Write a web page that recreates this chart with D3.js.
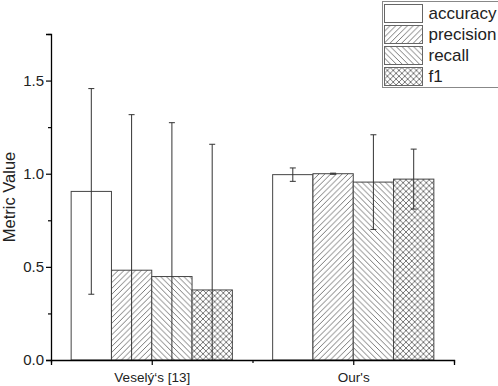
<!DOCTYPE html>
<html lang="en">
<head>
<meta charset="UTF-8">
<title>Metric Value</title>
<script src="https://d3js.org/d3.v7.min.js"></script>
<style>
    body{ margin:0; background:#fff; font-family: Arial, "Liberation Sans", sans-serif; }
</style>
</head>
<body>
<svg width="498" height="386" id="canvas"></svg>
<script>
    // data
    const groups = ["Veselý‘s [13]", "Our's"];
    const metrics = ["accuracy", "precision", "recall", "f1"];
    const means = [
        [0.905, 0.482, 0.448, 0.376],
        [0.995, 1.000, 0.955, 0.971]
    ];
    const errs = [
        [0.552, 0.835, 0.826, 0.782],
        [0.036, 0.003, 0.254, 0.161]
    ];
    const yTicks = [0, 0.5, 1.0, 1.5];
    const yMinor = [0.25, 0.75, 1.25, 1.75];

    const svg = d3.select("svg");
    const mLeft = 51, mRight = 454, mTop = 34, mBottom = 360;

    const x = d3.scaleLinear().domain([0.5, 2.5]).range([mLeft, mRight]);
    const y = d3.scaleLinear().domain([0, 1.75]).range([mBottom, mTop]);
    const barW = 0.2;

    // hatch patterns
    const defs = svg.append("defs");
    const s = 5.8;
    function hatch(id, d) {
        const p = defs.append("pattern").attr("id", id)
            .attr("patternUnits", "userSpaceOnUse")
            .attr("width", s).attr("height", s);
        p.append("rect").attr("width", s).attr("height", s).attr("fill", "#fff");
        p.append("path").attr("d", d)
            .attr("stroke", "#555").attr("stroke-width", 0.8).attr("fill", "none");
    }
    const fwd = `M0,${s} L${s},0 M${-1},1 L1,${-1} M${s-1},${s+1} L${s+1},${s-1}`;
    const back = `M0,0 L${s},${s} M${-1},${s-1} L1,${s+1} M${s-1},${-1} L${s+1},1`;
    hatch("p-precision", fwd);
    hatch("p-recall", back);
    hatch("p-f1", fwd + " " + back);
    const fills = ["#fff", "url(#p-precision)", "url(#p-recall)", "url(#p-f1)"];

    defs.append("clipPath").attr("id", "plot")
        .append("rect").attr("x", mLeft).attr("y", 0)
        .attr("width", mRight - mLeft).attr("height", mBottom);

    // bars
    const rows = [];
    groups.forEach((g, gi) => metrics.forEach((m, mi) => {
        rows.push({gi, mi, v: means[gi][mi], e: errs[gi][mi], cx: gi + 1 + (mi - 1.5) * barW});
    }));

    const plot = svg.append("g").attr("clip-path", "url(#plot)");
    plot.selectAll(".bar").data(rows).enter().append("rect")
        .attr("class", "bar")
        .attr("x", d => x(d.cx - barW / 2))
        .attr("width", d => x(d.cx + barW / 2) - x(d.cx - barW / 2))
        .attr("y", d => y(d.v))
        .attr("height", d => y(0) - y(d.v))
        .attr("fill", d => fills[d.mi])
        .attr("stroke", "#444").attr("stroke-width", 1);

    // error bars
    const eb = plot.selectAll(".err").data(rows).enter().append("g").attr("class", "err")
        .attr("stroke", "#333").attr("stroke-width", 1);
    eb.append("line")
        .attr("x1", d => x(d.cx)).attr("x2", d => x(d.cx))
        .attr("y1", d => y(d.v + d.e)).attr("y2", d => y(d.v - d.e));
    eb.append("line")
        .attr("x1", d => x(d.cx) - 3).attr("x2", d => x(d.cx) + 3)
        .attr("y1", d => y(d.v + d.e)).attr("y2", d => y(d.v + d.e));
    eb.append("line")
        .attr("x1", d => x(d.cx) - 3).attr("x2", d => x(d.cx) + 3)
        .attr("y1", d => y(d.v - d.e)).attr("y2", d => y(d.v - d.e));

    // axes
    const yAxis = svg.append("g").attr("transform", `translate(${mLeft},0)`)
        .call(d3.axisLeft(y).tickValues(yTicks).tickSize(5).tickPadding(2).tickFormat(d3.format(".1f")));
    svg.append("g").attr("transform", `translate(${mLeft},0)`)
        .call(d3.axisLeft(y).tickValues(yMinor).tickSize(3).tickFormat(""))
        .select(".domain").remove();

    const xAxis = svg.append("g").attr("transform", `translate(0,${mBottom})`)
        .call(d3.axisBottom(x).tickValues([1, 2]).tickSize(5).tickPadding(7)
            .tickFormat(d => groups[d - 1]));
    svg.append("g").attr("transform", `translate(0,${mBottom})`)
        .call(d3.axisBottom(x).tickValues([0.5, 1.5, 2.5]).tickSize(3).tickFormat(""))
        .select(".domain").remove();

    svg.selectAll(".domain").attr("stroke", "#000").attr("stroke-width", 1.3);
    svg.selectAll(".tick line").attr("stroke", "#000").attr("stroke-width", 1.2);
    yAxis.selectAll("text").attr("font-size", 15).attr("fill", "#222")
        .attr("font-family", "Arial, 'Liberation Sans', sans-serif");
    xAxis.selectAll("text").attr("font-size", 13.5).attr("fill", "#222")
        .attr("font-family", "Arial, 'Liberation Sans', sans-serif");

    svg.append("text")
        .attr("transform", `translate(15,${(mTop + mBottom) / 2}) rotate(-90)`)
        .attr("text-anchor", "middle")
        .attr("font-size", 16.5).attr("fill", "#222")
        .text("Metric Value");

    // legend
    const lg = svg.append("g").attr("transform", "translate(382,1)");
    lg.append("rect").attr("x", 0.5).attr("y", 0.5).attr("width", 116).attr("height", 86)
        .attr("fill", "#fff").attr("stroke", "#888").attr("stroke-width", 1);
    const items = lg.selectAll(".item").data(metrics).enter().append("g")
        .attr("transform", (d, i) => `translate(2.5,${3.5 + i * 21})`);
    items.append("rect").attr("width", 38).attr("height", 18)
        .attr("fill", (d, i) => fills[i]).attr("stroke", "#666").attr("stroke-width", 1);
    items.append("text").attr("x", 44).attr("y", 14.5)
        .attr("font-size", 17).attr("fill", "#222")
        .text(d => d);
</script>
</body>
</html>
